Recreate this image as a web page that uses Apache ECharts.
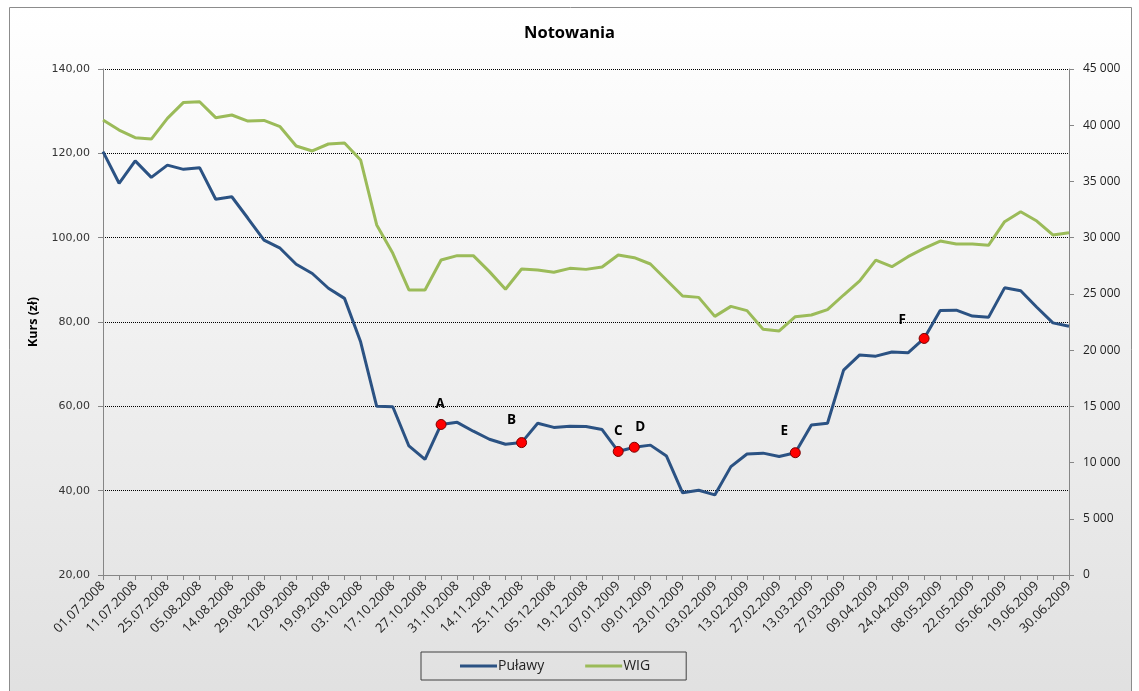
<!DOCTYPE html>
<html lang="pl">
<head>
    <meta charset="UTF-8">
    <title>Notowania</title>
    <script src="https://cdn.jsdelivr.net/npm/echarts@6/dist/echarts.min.js"></script>
    <style>
        html, body { margin: 0; padding: 0; background: #fff; }
        #chart { width: 1139px; height: 691px; }
    </style>
</head>
<body>
<div id="chart"></div>
<script>
// daty notowań (co druga etykieta widoczna na osi)
const dates = [
    '01.07.2008', '04.07.2008', '11.07.2008', '18.07.2008', '25.07.2008', '30.07.2008',
    '05.08.2008', '08.08.2008', '14.08.2008', '22.08.2008', '29.08.2008', '05.09.2008',
    '12.09.2008', '16.09.2008', '19.09.2008', '26.09.2008', '03.10.2008', '10.10.2008',
    '17.10.2008', '22.10.2008', '27.10.2008', '29.10.2008', '31.10.2008', '07.11.2008',
    '14.11.2008', '21.11.2008', '25.11.2008', '28.11.2008', '05.12.2008', '12.12.2008',
    '19.12.2008', '30.12.2008', '07.01.2009', '08.01.2009', '09.01.2009', '16.01.2009',
    '23.01.2009', '30.01.2009', '03.02.2009', '06.02.2009', '13.02.2009', '20.02.2009',
    '27.02.2009', '06.03.2009', '13.03.2009', '20.03.2009', '27.03.2009', '03.04.2009',
    '09.04.2009', '17.04.2009', '24.04.2009', '30.04.2009', '08.05.2009', '15.05.2009',
    '22.05.2009', '29.05.2009', '05.06.2009', '12.06.2009', '19.06.2009', '26.06.2009',
    '30.06.2009'
];

// kurs Puławy (zł)
const pulawy = [
    120.4, 112.9, 118.2, 114.3, 117.2, 116.2, 116.6, 109.1, 109.7, 104.6,
    99.4, 97.5, 93.7, 91.5, 88.0, 85.6, 75.3, 60.0, 59.9, 50.6,
    47.4, 55.7, 56.2, 54.1, 52.2, 51.0, 51.4, 56.0, 55.0, 55.3,
    55.2, 54.5, 49.3, 50.3, 50.8, 48.2, 39.5, 40.1, 39.0, 45.7,
    48.7, 48.9, 48.1, 49.0, 55.6, 56.0, 68.6, 72.2, 71.9, 72.9,
    72.7, 76.1, 82.7, 82.8, 81.4, 81.1, 88.1, 87.4, 83.5, 79.8,
    79.0
];

// indeks WIG (prawa oś)
const wig = [
    40460, 39570, 38890, 38770, 40610, 42030, 42090, 40670, 40910, 40370,
    40430, 39870, 38150, 37710, 38330, 38420, 36910, 31130, 28610, 25350,
    25350, 28010, 28400, 28400, 26980, 25410, 27210, 27120, 26920, 27270,
    27180, 27390, 28460, 28220, 27660, 26230, 24810, 24690, 23000, 23890,
    23510, 21850, 21700, 22970, 23120, 23600, 24900, 26150, 28010, 27420,
    28310, 29050, 29700, 29440, 29440, 29320, 31420, 32310, 31480, 30240,
    30440
];

// punkty zaznaczone na wykresie
const markIdx = [21, 26, 32, 33, 43, 51];
const markNames = ['A', 'B', 'C', 'D', 'E', 'F'];
const markOffsets = [[-1, -2], [-10, -4], [0, -2], [6, -2], [-11, -3], [-22, 0]];

const chart = echarts.init(document.getElementById('chart'));

const markData = markIdx.map((idx, k) => ({
    name: markNames[k],
    coord: [idx, pulawy[idx]],
    label: { offset: markOffsets[k] }
}));

const option = {
    animation: false,
    textStyle: { fontFamily: 'Open Sans' },
    graphic: [{
        type: 'rect',
        left: 9, top: 7,
        shape: { width: 1122, height: 700 },
        style: {
            fill: new echarts.graphic.LinearGradient(0, 0, 0, 1, [
                { offset: 0, color: '#ffffff' },
                { offset: 1, color: '#e0e0e0' }
            ]),
            stroke: '#8c8c8c',
            lineWidth: 1
        },
        z: -10
    }],
    title: {
        text: 'Notowania',
        left: 'center',
        top: 20,
        textStyle: { fontSize: 16.5, fontWeight: 'bold', color: '#000', fontFamily: 'Open Sans' }
    },
    legend: {
        data: ['Puławy', 'WIG'],
        left: 421,
        top: 652,
        orient: 'horizontal',
        borderColor: '#404040',
        borderWidth: 1,
        padding: [7, 36, 7, 39],
        itemGap: 41,
        itemWidth: 37,
        itemHeight: 3,
        icon: 'rect',
        textStyle: { fontSize: 14, color: '#222', padding: [0, 0, 0, -4] }
    },
    grid: { left: 103, right: 70, top: 69, bottom: 116, containLabel: false },
    xAxis: {
        type: 'category',
        data: dates,
        boundaryGap: false,
        axisLine: { lineStyle: { color: '#868686' } },
        axisTick: { show: true, interval: 0, length: 5, lineStyle: { color: '#868686' } },
        axisLabel: {
            interval: 1,
            rotate: 45,
            fontSize: 13,
            color: '#222',
            margin: 9
        },
        splitLine: { show: false }
    },
    yAxis: [{
        type: 'value',
        name: 'Kurs (zł)',
        nameLocation: 'middle',
        nameGap: 63,
        nameTextStyle: { fontSize: 12.5, fontWeight: 'bold', color: '#000' },
        min: 20,
        max: 140,
        interval: 20,
        axisLine: { show: true, lineStyle: { color: '#868686' } },
        axisTick: { show: true, length: 5, lineStyle: { color: '#868686' } },
        axisLabel: {
            fontSize: 11,
            color: '#333',
            fontFamily: 'DejaVu Sans',
            margin: 13,
            formatter: v => v.toFixed(2).replace('.', ',')
        },
        splitLine: { show: true, lineStyle: { color: '#000', type: [1, 1], width: 1 } }
    }, {
        type: 'value',
        position: 'right',
        min: 0,
        max: 45000,
        interval: 5000,
        axisLine: { show: true, lineStyle: { color: '#868686' } },
        axisTick: { show: true, length: 5, lineStyle: { color: '#868686' } },
        axisLabel: {
            fontSize: 12,
            color: '#222',
            margin: 14,
            formatter: v => String(v).replace(/\B(?=(\d{3})+(?!\d))/g, ' ')
        },
        splitLine: { show: false }
    }],
    series: [{
        name: 'WIG',
        type: 'line',
        yAxisIndex: 1,
        data: wig,
        showSymbol: false,
        lineStyle: { color: '#9bbb59', width: 3 },
        itemStyle: { color: '#9bbb59' },
        z: 2
    }, {
        name: 'Puławy',
        type: 'line',
        yAxisIndex: 0,
        data: pulawy,
        showSymbol: false,
        lineStyle: { color: '#2b5283', width: 3 },
        itemStyle: { color: '#2b5283' },
        z: 3,
        markPoint: {
            symbol: 'circle',
            symbolSize: 10,
            itemStyle: { color: '#ff0000', borderColor: '#7a0000', borderWidth: 1 },
            label: {
                show: true,
                position: 'top',
                distance: 6,
                formatter: '{b}',
                color: '#000',
                fontSize: 13.5,
                fontWeight: 'bold'
            },
            data: markData
        }
    }]
};

chart.setOption(option);
</script>
</body>
</html>
